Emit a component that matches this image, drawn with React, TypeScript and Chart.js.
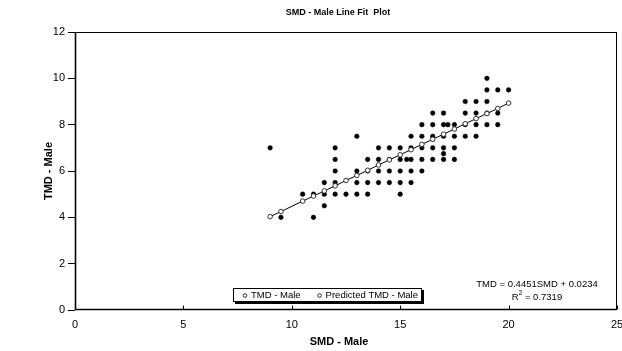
import React, { useEffect, useRef } from "react";
import { Chart, registerables } from "chart.js";

Chart.register(...registerables);

// ---- data ----
const obsX = [
  9.5, 11,
  11.5,
  10.5, 11, 11.5, 12, 12.5, 13, 13.5, 15,
  11.5, 12, 13, 13.5, 14, 14.5, 15, 15.5,
  12, 13, 13.5, 14, 14.5, 15, 15.5, 16,
  12, 13.5, 14, 14.5, 15, 15.3, 15.5, 16, 16.5, 17, 17.5,
  17,
  9, 12, 14, 14.5, 15, 15.5, 16, 16.5, 17, 17.5,
  13, 15.5, 16, 16.5, 17, 17.5, 18, 18.5,
  16, 16.5, 17, 17.2, 17.5, 18, 18.5, 19, 19.5,
  16.5, 17, 18, 18.5, 19, 19.5,
  18, 18.5, 19,
  19, 19.5, 20,
  19,
];
const obsY = [
  4, 4,
  4.5,
  5, 5, 5, 5, 5, 5, 5, 5,
  5.5, 5.5, 5.5, 5.5, 5.5, 5.5, 5.5, 5.5,
  6, 6, 6, 6, 6, 6, 6, 6,
  6.5, 6.5, 6.5, 6.5, 6.5, 6.5, 6.5, 6.5, 6.5, 6.5, 6.5,
  6.75,
  7, 7, 7, 7, 7, 7, 7, 7, 7, 7,
  7.5, 7.5, 7.5, 7.5, 7.5, 7.5, 7.5, 7.5,
  8, 8, 8, 8, 8, 8, 8, 8, 8,
  8.5, 8.5, 8.5, 8.5, 8.5, 8.5,
  9, 9, 9,
  9.5, 9.5, 9.5,
  10,
];
const predX = [9, 9.5, 10.5, 11, 11.5, 12, 12.5, 13, 13.5, 14, 14.5, 15, 15.5, 16, 16.5, 17, 17.5, 18, 18.5, 19, 19.5, 20];
const predY = [4.03, 4.25, 4.70, 4.92, 5.14, 5.36, 5.59, 5.81, 6.03, 6.26, 6.48, 6.70, 6.92, 7.15, 7.37, 7.59, 7.81, 8.04, 8.26, 8.48, 8.70, 8.93];

const xTicks = [0, 5, 10, 15, 20, 25];
const yTicks = [0, 2, 4, 6, 8, 10, 12];
const seriesNames = ["TMD - Male", "Predicted TMD - Male"];
const chartTitle = "SMD - Male Line Fit  Plot";
const xTitle = "SMD - Male";
const yTitle = "TMD - Male";
const eqText = "TMD = 0.4451SMD + 0.0234";
const r2Text = " = 0.7319";

const FONT = "'Liberation Sans', Arial, sans-serif";

const decor = {
  id: "decor",
  afterDraw(chart: any) {
    const { ctx, chartArea: a, scales } = chart;
    const xs = scales.x;
    ctx.save();
    ctx.strokeStyle = "#000";
    ctx.lineWidth = 1;
    const L = Math.round(a.left) + 0.5;
    const T = Math.round(a.top) + 0.5;
    const R = Math.round(a.right) - 0.5;
    const B = Math.round(a.bottom) - 0.5;
    ctx.strokeRect(L, T, R - L, B - T);
    // heavier axis lines
    ctx.beginPath();
    ctx.moveTo(L, T);
    ctx.lineTo(L, B);
    ctx.lineTo(R, B);
    ctx.lineWidth = 1.6;
    ctx.stroke();
    ctx.lineWidth = 1;
    // inward x ticks
    ctx.beginPath();
    for (const t of xTicks) {
      const px = Math.round(xs.getPixelForValue(t)) + 0.5;
      ctx.moveTo(px, B);
      ctx.lineTo(px, B - 4);
    }
    ctx.stroke();

    ctx.fillStyle = "#000";
    ctx.textAlign = "center";
    ctx.textBaseline = "middle";
    ctx.font = `bold 9px ${FONT}`;
    ctx.fillText(chartTitle, 338, 12.5);
    ctx.font = `bold 11px ${FONT}`;
    ctx.fillText(xTitle, 339, 342);

    // regression equation
    ctx.font = `9.5px ${FONT}`;
    ctx.fillText(eqText, 537, 284);
    ctx.textAlign = "left";
    const wR = ctx.measureText("R").width;
    ctx.font = `6.5px ${FONT}`;
    const wS = ctx.measureText("2").width;
    ctx.font = `9.5px ${FONT}`;
    const wRest = ctx.measureText(r2Text).width;
    const sx = 537 - (wR + wS + wRest) / 2;
    ctx.fillText("R", sx, 297);
    ctx.font = `6.5px ${FONT}`;
    ctx.fillText("2", sx + wR, 293.5);
    ctx.font = `9.5px ${FONT}`;
    ctx.fillText(r2Text, sx + wR + wS, 297);

    // legend
    const lx = 233, ly = 288, lw = 189, lh = 14;
    ctx.fillStyle = "#000";
    ctx.fillRect(lx + 2, ly + 2, lw, lh);
    ctx.fillStyle = "#fff";
    ctx.fillRect(lx, ly, lw, lh);
    ctx.strokeRect(lx + 0.5, ly + 0.5, lw - 1, lh - 1);
    ctx.font = `9.5px ${FONT}`;
    ctx.textBaseline = "middle";
    let cx = lx + 12;
    const cy = ly + lh / 2 + 0.5;
    chart.data.datasets.forEach((ds: any) => {
      ctx.beginPath();
      ctx.arc(cx, cy, 1.8, 0, Math.PI * 2);
      ctx.fillStyle = "#fff";
      ctx.fill();
      ctx.strokeStyle = "#000";
      ctx.lineWidth = 0.8;
      ctx.stroke();
      ctx.fillStyle = "#000";
      ctx.fillText(ds.label, cx + 6, cy);
      cx += 6 + ctx.measureText(ds.label).width + 19;
    });
    ctx.restore();
  },
};

export default function App() {
  const ref = useRef<HTMLCanvasElement | null>(null);
  useEffect(() => {
    if (!ref.current) return;
    const observed = obsX.map((x, i) => ({ x, y: obsY[i] }));
    const predicted = predX.map((x, i) => ({ x, y: predY[i] }));
    const chart = new Chart(ref.current, {
      type: "scatter",
      data: {
        datasets: [
          {
            label: seriesNames[0],
            data: observed,
            pointRadius: 2.3,
            pointBackgroundColor: "#000",
            pointBorderColor: "#000",
            pointBorderWidth: 0.5,
            order: 2,
          },
          {
            label: seriesNames[1],
            data: predicted,
            showLine: true,
            borderColor: "#000",
            borderWidth: 1,
            pointRadius: 2.3,
            pointBackgroundColor: "#fff",
            pointBorderColor: "#333",
            pointBorderWidth: 1,
            order: 1,
          },
        ],
      },
      options: {
        responsive: false,
        animation: false,
        layout: { padding: { top: 32, right: 2, left: 0, bottom: 0 } },
        plugins: {
          legend: { display: false },
          title: { display: false },
          tooltip: { enabled: false },
        },
        scales: {
          x: {
            type: "linear",
            min: 0,
            max: 25,
            afterBuildTicks: (s: any) => {
              s.ticks = xTicks.map((v) => ({ value: v }));
            },
            ticks: {
              color: "#000",
              padding: 8,
              maxRotation: 0,
              autoSkip: false,
              font: { family: FONT, size: 11 },
            },
            grid: { display: false, drawTicks: false },
            border: { display: false },
            afterFit: (s: any) => {
              s.height = 41;
              s.paddingLeft = 0;
              s.paddingRight = 0;
            },
          },
          y: {
            type: "linear",
            min: 0,
            max: 12,
            afterBuildTicks: (s: any) => {
              s.ticks = yTicks.map((v) => ({ value: v }));
            },
            ticks: {
              color: "#000",
              padding: 3,
              autoSkip: false,
              font: { family: FONT, size: 11 },
            },
            grid: {
              display: true,
              drawOnChartArea: false,
              drawTicks: true,
              tickLength: 7,
              color: "#000",
            },
            border: { display: false },
            title: {
              display: true,
              text: yTitle,
              color: "#000",
              font: { family: FONT, size: 11, weight: "bold" },
              padding: { top: 42, bottom: 0 },
            },
            afterFit: (s: any) => {
              s.width = 75;
              s.paddingTop = 0;
              s.paddingBottom = 0;
            },
          },
        },
      },
      plugins: [decor],
    });
    return () => chart.destroy();
  }, []);
  return (
    <div style={{ position: "absolute", left: 0, top: 0, width: 622, height: 351, background: "#fff" }}>
      <canvas ref={ref} width={622} height={351} />
    </div>
  );
}
